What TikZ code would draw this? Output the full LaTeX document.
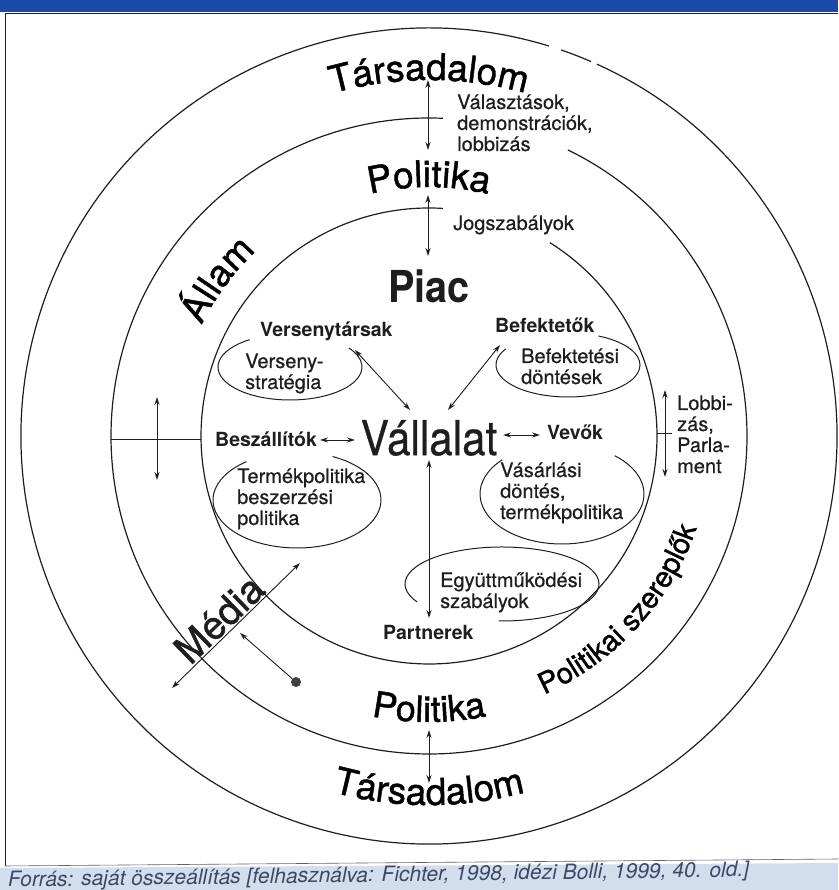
\documentclass[tikz,border=0pt]{standalone}
\usepackage{fontspec}
\setmainfont{TeX Gyre Heros}
\newfontfamily\heavy{TeX Gyre Heros}[FakeBold=1.2]
\newfontfamily\semi{TeX Gyre Heros}[FakeBold=0.6]
\usetikzlibrary{arrows.meta,decorations.text,calc}
\definecolor{ink}{RGB}{30,30,30}
\definecolor{barblue}{RGB}{28,74,170}
\definecolor{capbg}{RGB}{210,222,238}
\definecolor{captc}{RGB}{60,72,100}
\newcommand{\lbl}[1]{\begin{tabular}[t]{@{}l@{}}#1\end{tabular}}
\begin{document}
\begin{tikzpicture}[x=1pt,y=1pt,
  ring/.style={draw=ink,line width=1.2pt},
  oval/.style={draw=ink,line width=1.0pt},
  arr/.style={draw=ink,line width=0.9pt,{Stealth[length=8pt,width=5pt]}-{Stealth[length=8pt,width=5pt]}},
  onearr/.style={draw=ink,line width=0.9pt,-{Stealth[length=8pt,width=5pt]}},
  lab/.style={font=\semi\fontsize{20}{21}\selectfont,text=ink,inner sep=0pt,anchor=base west},
  blab/.style={font=\bfseries\fontsize{19.5}{21}\selectfont,text=ink,inner sep=0pt,anchor=base west},
  arctext/.style={decorate,color=ink,decoration={text along path,text align=center,text={#1}}}]
\useasboundingbox (0,0) rectangle (838,890);
% frame
\fill[capbg] (0,0) -- (0,22) -- (838,27) -- (838,0) -- cycle;
\fill[barblue] (0,878) rectangle (838,890);
\draw[ink,line width=0.8pt] (5,877) -- (838,877);
\draw[ink,line width=0.9pt] (5,877) -- (5,24);
\draw[ink!70,line width=0.6pt] (5,24) -- (838,31);
\coordinate (C) at (429,454);
% rings
\draw[ring] ([shift={(72.9:408pt)}]C) arc[start angle=72.9,end angle=425.7,radius=408pt];
\draw[ring] ([shift={(71.1:408pt)}]C) arc[start angle=71.1,end angle=66.6,radius=408pt];
\draw[ring] ([shift={(87.5:318pt)}]C) arc[start angle=87.5,end angle=424.1,radius=318pt];
\draw[ring] ([shift={(86.5:228pt)}]C) arc[start angle=86.5,end angle=418,radius=228pt];
% ovals
\coordinate (E1) at (290,523);
\coordinate (E2) at (568,525);
\coordinate (E3) at (562,396);
\coordinate (E4) at (297,390);
\coordinate (E5) at (502,306);
\draw[oval] ([shift={(124:72pt and 33pt)}]E1) arc[start angle=124,end angle=395,x radius=72pt,y radius=33pt];
\draw[oval] ([shift={(150:72pt and 32pt)}]E2) arc[start angle=150,end angle=425,x radius=72pt,y radius=32pt];
\draw[oval] ([shift={(137:82pt and 50pt)}]E3) arc[start angle=137,end angle=410,x radius=82pt,y radius=50pt];
\draw[oval] ([shift={(127:84pt and 48pt)}]E4) arc[start angle=127,end angle=425,x radius=84pt,y radius=48pt];
\draw[oval] ([shift={(209:97pt and 37pt)}]E5) arc[start angle=209,end angle=-92,x radius=97pt,y radius=37pt];
% ring texts
\path[arctext={|\heavy\fontsize{37pt}{40pt}\selectfont|Társadalom}] ([shift={(125:356pt)}]C) arc[start angle=125,end angle=55,radius=356pt];
\path[arctext={|\heavy\fontsize{37pt}{40pt}\selectfont|Politika}] ([shift={(130:249pt)}]C) arc[start angle=130,end angle=50,radius=249pt];
\path[arctext={|\heavy\fontsize{37pt}{40pt}\selectfont|Állam}] ([shift={(168:253pt)}]C) arc[start angle=168,end angle=119,radius=253pt];
\path[arctext={|\heavy\fontsize{29pt}{31pt}\selectfont|Politikai szereplők}] ([shift={(-79:283pt)}]C) arc[start angle=-79,end angle=-6,radius=283pt];
\path[arctext={|\heavy\fontsize{36pt}{38pt}\selectfont|Politika}] ([shift={(-125:286pt)}]C) arc[start angle=-125,end angle=-55,radius=286pt];
\path[arctext={|\heavy\fontsize{37pt}{40pt}\selectfont|Társadalom}] ([shift={(-120:369pt)}]C) arc[start angle=-120,end angle=-60,radius=369pt];
% big words
\node[font=\bfseries\fontsize{44}{44}\selectfont,text=ink,inner sep=0pt] (piac) at (429,604) {\scalebox{0.9}[1]{Piac}};
\node[font=\semi\fontsize{48}{48}\selectfont,text=ink,inner sep=0pt] (vall) at (429,452) {\scalebox{0.88}[1]{Vállalat}};
\node[font=\heavy\fontsize{39}{39}\selectfont,text=ink,inner sep=0pt,rotate=44] (media) at (219,271) {Média};
% labels
\node[lab] (valaszt) at (457,781) {\lbl{Választások,\\demonstrációk,\\lobbizás}};
\node[lab] (jog) at (453,660) {Jogszabályok};
\node[blab] (versT) at (260,553) {Versenytársak};
\node[lab] (versS) at (245,522) {\lbl{Verseny-\\stratégia}};
\node[blab] (besz) at (215,443) {Beszállítók};
\node[lab] (termek) at (237,407) {\lbl{Termékpolitika\\beszerzési\\politika}};
\node[blab] (befT) at (495,557) {Befektetők};
\node[lab] (befD) at (521,527) {\lbl{Befektetési\\döntések}};
\node[blab] (vevok) at (547,450) {Vevők};
\node[lab] (vas) at (500,413) {\lbl{Vásárlási\\döntés,\\termékpolitika}};
\node[lab] (lobbi) at (677,480) {\lbl{Lobbi-\\zás,\\Parla-\\ment}};
\node[lab] (egy) at (440,303) {\lbl{Együttműködési\\szabályok}};
\node[blab] (partner) at (383,250) {Partnerek};
% arrow end points
\coordinate (t1a) at (428,810); \coordinate (t1b) at (428,740);
\coordinate (t2a) at (428,695); \coordinate (t2b) at (428,634);
\coordinate (t3a) at (429,160); \coordinate (t3b) at (429,107);
\coordinate (l1a) at (157,493); \coordinate (l1b) at (157,410);
\coordinate (lh1) at (111,450); \coordinate (lh2) at (201,450);
\coordinate (r1a) at (665,500); \coordinate (r1b) at (665,413);
\coordinate (rh1) at (657,456); \coordinate (rh2) at (672,456);
\coordinate (vsA) at (355,540); \coordinate (vsB) at (410,480);
\coordinate (bfA) at (500,545); \coordinate (bfB) at (448,480);
\coordinate (bzA) at (320,450); \coordinate (bzB) at (355,450);
\coordinate (vvA) at (503,455); \coordinate (vvB) at (540,455);
\coordinate (ptA) at (429,430); \coordinate (ptB) at (429,272);
\coordinate (mA) at (172,202); \coordinate (mB) at (300,327);
\coordinate (mT) at (240,257);
\node[circle,fill=ink!85,inner sep=0pt,minimum size=10pt] (dot) at (296,208) {};
% connectors
\draw[arr] (t1a) -- (t1b);
\draw[arr] (t2a) -- (t2b);
\draw[arr] (t3a) -- (t3b);
\draw[arr] (l1a) -- (l1b);
\draw[ink,line width=1.0pt] (lh1) -- (lh2);
\draw[arr] (r1a) -- (r1b);
\draw[ink,line width=1.0pt] (rh1) -- (rh2);
\draw[arr] (vsA) -- (vsB);
\draw[arr] (bfA) -- (bfB);
\draw[arr] (bzA) -- (bzB);
\draw[arr] (vvA) -- (vvB);
\draw[arr] (ptA) -- (ptB);
\draw[arr] (mA) -- (mB);
\draw[onearr] (dot) -- (mT);
% caption
\node[anchor=base west,rotate=0.8,inner sep=0pt,text=captc,font=\itshape\fontsize{21}{21}\selectfont] (src) at (8,3) {Forrás: saját összeállítás [felhasználva: Fichter, 1998, idézi Bolli, 1999, 40. old.]};
\end{tikzpicture}
\end{document}
